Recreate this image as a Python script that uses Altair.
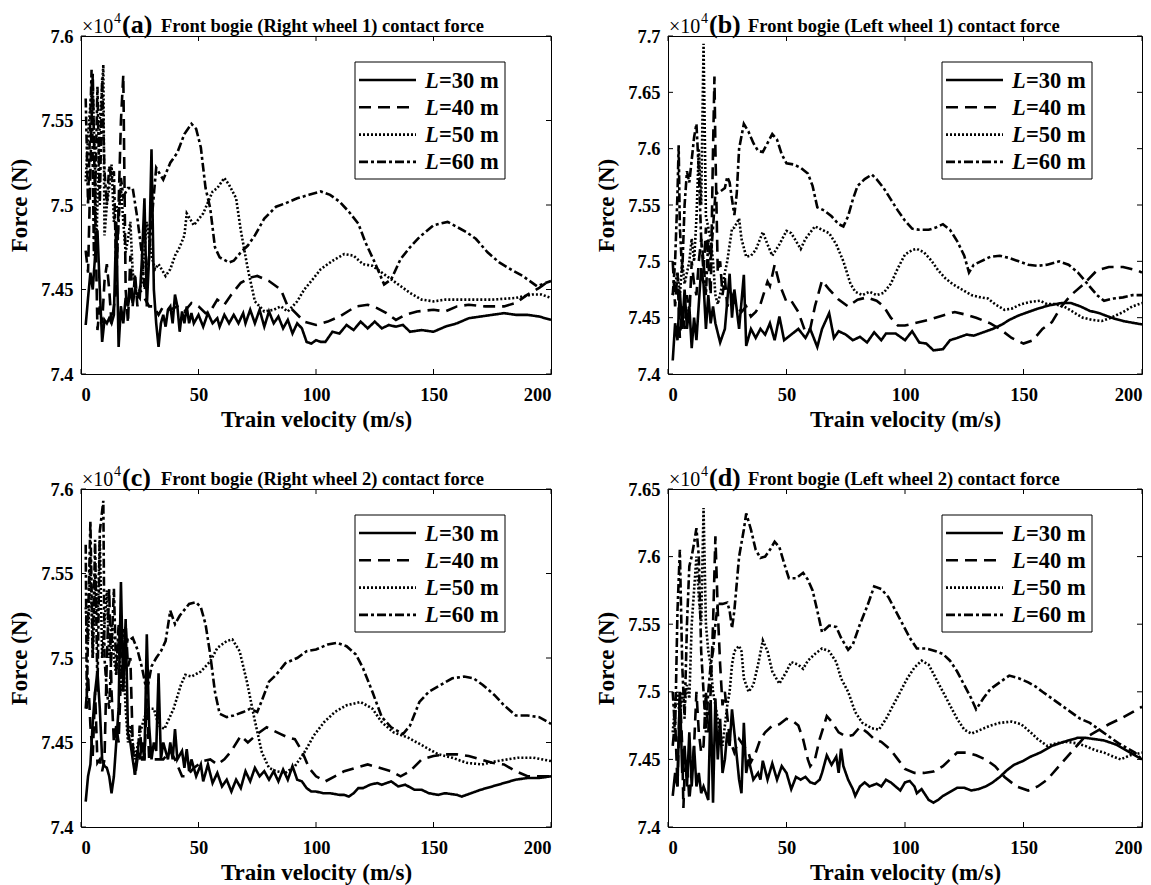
import altair as alt
import pandas as pd

FONT = "Liberation Serif, 'Times New Roman', Times, serif"
W, H = 471, 338

# ---------------- data (velocity m/s, force x1e4 N) ----------------
SERIES = ["L=30 m", "L=40 m", "L=50 m", "L=60 m"]
DASHES = [[1, 0], [12, 7], [2, 2], [9, 3, 3, 3]]
X_TICKS = [0, 50, 100, 150, 200]

A30 = [(2,7.429),(3,7.445),(4,7.46),(5,7.45),(6,7.47),(7,7.485),(8,7.45),(9,7.419),(10,7.432),(11,7.43),(12,7.433),(13,7.43),(14,7.435),(15,7.49),(16,7.416),(17,7.44),(18,7.43),(19,7.445),(20,7.44),(21,7.45),(22,7.442),(23,7.45),(24,7.447),(25,7.445),(26,7.47),(27,7.504),(28,7.44),(29,7.47),(30,7.533),(31,7.45),(32,7.43),(33,7.416),(34,7.43),(35,7.435),(36,7.428),(37,7.438),(38,7.44),(39,7.43),(40,7.447),(41,7.44),(42,7.425),(43,7.437),(44,7.43),(45,7.44),(46,7.43),(47,7.436),(48,7.43),(50,7.435),(52,7.428),(54,7.436),(56,7.43),(58,7.433),(59,7.428),(61,7.435),(63,7.43),(65,7.435),(67,7.43),(69,7.436),(70,7.43),(72,7.438),(74,7.43),(76,7.438),(78,7.428),(80,7.437),(82,7.43),(84,7.434),(86,7.427),(88,7.432),(90,7.424),(92,7.43),(94,7.427),(96,7.419),(98,7.418),(100,7.42),(102,7.419),(104,7.419),(107,7.425),(110,7.424),(113,7.429),(116,7.426),(119,7.431),(122,7.427),(125,7.431),(128,7.427),(131,7.429),(134,7.428),(137,7.429),(140,7.425),(145,7.426),(150,7.425),(155,7.428),(160,7.43),(165,7.433),(170,7.434),(175,7.435),(180,7.436),(185,7.435),(190,7.435),(195,7.434),(200,7.432)]
A40 = [(2,7.473),(3,7.46),(4,7.52),(5,7.578),(6,7.5),(7,7.426),(8,7.44),(9,7.43),(10,7.455),(11,7.465),(12,7.45),(13,7.43),(14,7.44),(15,7.45),(16,7.5),(17,7.55),(18,7.577),(19,7.45),(20,7.43),(21,7.47),(22,7.44),(23,7.46),(24,7.44),(25,7.45),(27,7.445),(29,7.44),(31,7.44),(33,7.435),(35,7.44),(38,7.438),(41,7.44),(44,7.437),(47,7.442),(50,7.44),(53,7.436),(55,7.437),(58,7.444),(61,7.441),(64,7.447),(68,7.454),(72,7.457),(75,7.458),(80,7.455),(85,7.45),(88,7.44),(90,7.438),(95,7.431),(100,7.429),(105,7.431),(110,7.434),(117,7.44),(122,7.441),(126,7.439),(130,7.436),(134,7.432),(138,7.435),(143,7.437),(150,7.438),(155,7.437),(160,7.44),(165,7.441),(172,7.44),(180,7.44),(185,7.442),(190,7.447),(195,7.451),(200,7.456)]
A50 = [(2,7.514),(3,7.54),(4,7.56),(5,7.57),(6,7.52),(6.5,7.475),(7,7.5),(8,7.55),(9,7.57),(9.5,7.583),(10,7.482),(11,7.5),(12,7.51),(13,7.524),(14,7.49),(15,7.5),(16,7.495),(17,7.51),(18,7.49),(19,7.472),(20,7.48),(21,7.49),(22,7.46),(24,7.445),(26,7.455),(28,7.49),(30,7.47),(31.5,7.462),(33,7.465),(36,7.458),(38,7.462),(40,7.47),(42,7.475),(44,7.482),(45,7.495),(48,7.488),(52,7.495),(56,7.508),(58,7.51),(61,7.516),(63,7.512),(66,7.504),(68,7.485),(71,7.462),(74,7.443),(78,7.437),(82,7.438),(85,7.44),(88,7.437),(92,7.443),(95,7.45),(98,7.455),(102,7.462),(107,7.467),(112,7.471),(116,7.47),(120,7.465),(124,7.464),(128,7.46),(132,7.456),(136,7.452),(140,7.448),(145,7.444),(150,7.443),(155,7.444),(165,7.444),(175,7.444),(185,7.445),(192,7.447),(196,7.447),(200,7.445)]
A60 = [(2,7.563),(3,7.5),(4.5,7.58),(5.5,7.47),(7,7.57),(8,7.5),(9,7.575),(10,7.52),(11,7.5),(12,7.523),(13,7.515),(14,7.52),(15,7.46),(16,7.49),(17,7.516),(18,7.505),(20,7.51),(22,7.51),(24,7.492),(26,7.47),(27,7.45),(28,7.455),(29,7.47),(30,7.49),(32,7.522),(35,7.515),(38,7.525),(41,7.531),(44,7.542),(47,7.548),(49,7.545),(51,7.534),(53,7.51),(55,7.498),(57,7.475),(59,7.469),(63,7.466),(65,7.467),(68,7.472),(71,7.476),(74,7.482),(78,7.492),(83,7.499),(87,7.501),(92,7.504),(97,7.506),(102,7.508),(106,7.506),(110,7.502),(114,7.496),(118,7.489),(121,7.478),(125,7.466),(129,7.453),(132,7.456),(136,7.468),(140,7.475),(144,7.481),(150,7.488),(156,7.49),(160,7.487),(164,7.484),(168,7.48),(173,7.472),(178,7.466),(184,7.461),(188,7.458),(194,7.452),(200,7.455)]

B30 = [(2,7.412),(3,7.445),(4,7.43),(5,7.473),(6,7.44),(7,7.475),(8,7.44),(9,7.46),(10,7.423),(11,7.45),(12,7.43),(14,7.494),(15,7.48),(16,7.44),(17,7.47),(18,7.445),(19,7.46),(20,7.445),(22,7.428),(24,7.44),(26,7.489),(27,7.45),(28,7.475),(30,7.44),(32,7.488),(33,7.425),(35,7.44),(37,7.432),(39,7.44),(41,7.435),(43,7.445),(45,7.43),(47,7.451),(49,7.43),(52,7.435),(55,7.44),(58,7.432),(60,7.44),(63,7.424),(65,7.44),(68,7.454),(70,7.432),(72,7.438),(75,7.435),(78,7.43),(81,7.433),(84,7.428),(87,7.437),(90,7.43),(92,7.436),(96,7.436),(100,7.43),(103,7.438),(106,7.428),(109,7.427),(112,7.421),(116,7.422),(119,7.43),(122,7.432),(126,7.435),(129,7.434),(133,7.437),(137,7.44),(141,7.444),(144,7.448),(148,7.452),(152,7.455),(156,7.458),(161,7.461),(166,7.463),(170,7.463),(174,7.46),(178,7.456),(182,7.454),(187,7.45),(192,7.447),(200,7.444)]
B40 = [(2,7.5),(3,7.46),(4,7.49),(5,7.432),(6,7.46),(7,7.44),(8,7.47),(9,7.45),(10,7.5),(11,7.48),(12,7.47),(13,7.5),(14,7.52),(15,7.49),(16,7.53),(17,7.5),(18,7.47),(19,7.6),(19.6,7.664),(20,7.6),(21,7.49),(22,7.5),(23,7.47),(24,7.485),(25,7.46),(27,7.47),(29,7.46),(31,7.455),(33,7.46),(35,7.451),(37,7.455),(39,7.462),(42,7.482),(43,7.478),(45,7.497),(47,7.48),(50,7.464),(52,7.465),(55,7.455),(58,7.437),(60,7.44),(62,7.46),(65,7.483),(68,7.475),(72,7.466),(76,7.46),(80,7.466),(84,7.468),(88,7.465),(91,7.46),(94,7.45),(97,7.443),(100,7.443),(104,7.445),(110,7.448),(116,7.452),(121,7.455),(125,7.453),(130,7.45),(136,7.445),(140,7.44),(145,7.432),(150,7.427),(154,7.43),(158,7.44),(162,7.446),(166,7.46),(170,7.47),(175,7.479),(181,7.492),(186,7.495),(192,7.495),(198,7.492),(200,7.49)]
B50 = [(2,7.47),(3,7.48),(4,7.49),(5,7.47),(6,7.5),(7,7.48),(8,7.49),(9,7.5),(10,7.52),(11,7.5),(12,7.538),(13,7.6),(14,7.55),(15,7.693),(16,7.54),(17,7.53),(18,7.52),(19,7.5),(20,7.47),(21,7.462),(23,7.48),(25,7.5),(27,7.529),(28,7.53),(30,7.538),(31,7.52),(33,7.504),(35,7.505),(37,7.51),(40,7.526),(42,7.515),(44,7.505),(47,7.515),(50,7.527),(52,7.525),(54,7.518),(56,7.511),(58,7.52),(62,7.531),(65,7.528),(68,7.525),(71,7.515),(74,7.5),(77,7.48),(79,7.473),(82,7.47),(85,7.473),(88,7.47),(91,7.472),(94,7.48),(97,7.494),(100,7.506),(103,7.51),(105,7.511),(108,7.508),(111,7.501),(114,7.492),(117,7.485),(120,7.48),(124,7.475),(128,7.47),(132,7.468),(135,7.467),(138,7.462),(142,7.457),(145,7.458),(149,7.462),(153,7.464),(157,7.465),(160,7.462),(163,7.462),(167,7.46),(171,7.455),(175,7.45),(179,7.448),(183,7.447),(187,7.45),(192,7.455),(196,7.46),(200,7.463)]
B60 = [(2,7.47),(3,7.5),(4,7.56),(4.5,7.603),(5,7.53),(6,7.49),(7,7.55),(8,7.58),(9,7.57),(10,7.59),(11,7.61),(12,7.622),(13,7.58),(14,7.52),(15,7.5),(16,7.47),(17,7.52),(18,7.5),(19,7.53),(20,7.56),(22,7.562),(24,7.565),(25,7.575),(26,7.57),(27,7.555),(28,7.541),(29,7.56),(30,7.6),(32,7.622),(34,7.615),(36,7.605),(38,7.598),(40,7.597),(42,7.605),(44,7.613),(46,7.608),(48,7.595),(50,7.587),(53,7.586),(56,7.583),(59,7.578),(61,7.567),(63,7.548),(66,7.545),(69,7.54),(72,7.533),(74,7.531),(76,7.54),(78,7.555),(80,7.567),(83,7.573),(86,7.577),(88,7.573),(91,7.565),(94,7.555),(97,7.545),(100,7.536),(103,7.529),(106,7.528),(110,7.528),(113,7.53),(116,7.533),(119,7.528),(122,7.518),(125,7.505),(127,7.49),(129,7.497),(132,7.5),(136,7.504),(140,7.505),(144,7.503),(148,7.5),(152,7.497),(156,7.496),(160,7.497),(165,7.5),(169,7.497),(173,7.49),(177,7.48),(181,7.47),(184,7.465),(188,7.467),(192,7.468),(196,7.47),(200,7.47)]

C30 = [(2,7.415),(3,7.43),(4,7.437),(5,7.462),(6,7.48),(7,7.492),(8,7.47),(9,7.44),(10,7.436),(11,7.435),(12,7.43),(13,7.42),(14,7.43),(15,7.45),(16,7.47),(17,7.545),(18,7.48),(19,7.523),(20,7.455),(21,7.45),(22,7.44),(23,7.431),(24,7.445),(25,7.44),(26,7.45),(27,7.44),(28,7.514),(29,7.46),(30,7.44),(31,7.45),(32,7.445),(33,7.491),(34,7.44),(35,7.45),(37,7.44),(38,7.45),(39,7.44),(40,7.458),(41,7.44),(43,7.445),(44,7.435),(45,7.446),(46,7.433),(47,7.44),(49,7.43),(51,7.437),(52,7.427),(54,7.437),(56,7.426),(58,7.432),(60,7.424),(62,7.428),(64,7.421),(66,7.428),(68,7.423),(70,7.433),(72,7.427),(74,7.435),(76,7.43),(78,7.433),(80,7.428),(82,7.433),(84,7.427),(86,7.434),(88,7.428),(90,7.436),(92,7.428),(94,7.427),(96,7.423),(98,7.421),(100,7.421),(103,7.42),(106,7.42),(110,7.419),(112,7.419),(114,7.418),(116,7.42),(118,7.423),(120,7.423),(123,7.425),(126,7.426),(128,7.425),(130,7.426),(132,7.427),(135,7.424),(138,7.425),(142,7.422),(145,7.422),(148,7.42),(152,7.419),(155,7.42),(160,7.419),(162,7.418),(166,7.42),(170,7.422),(175,7.424),(180,7.426),(185,7.428),(190,7.429),(195,7.429),(200,7.43)]
C40 = [(2,7.47),(3,7.49),(4,7.46),(5,7.442),(6,7.48),(7,7.438),(8,7.44),(9,7.433),(10,7.44),(11,7.5),(12,7.541),(13,7.48),(14,7.45),(15,7.46),(16,7.45),(17,7.49),(18,7.5),(19,7.52),(20,7.495),(21,7.5),(22,7.45),(23,7.43),(24,7.44),(25,7.46),(26,7.44),(27,7.44),(28,7.476),(29,7.44),(31,7.44),(33,7.44),(35,7.44),(38,7.445),(40,7.44),(43,7.43),(45,7.43),(48,7.435),(52,7.439),(55,7.44),(58,7.437),(61,7.44),(64,7.445),(68,7.454),(71,7.45),(75,7.455),(79,7.459),(82,7.457),(85,7.455),(88,7.453),(91,7.452),(94,7.445),(97,7.435),(100,7.43),(104,7.427),(108,7.43),(112,7.433),(117,7.435),(122,7.437),(127,7.435),(132,7.433),(136,7.43),(140,7.433),(145,7.44),(150,7.442),(155,7.443),(160,7.443),(165,7.442),(170,7.44),(175,7.438),(180,7.437),(185,7.433),(190,7.43),(195,7.43),(200,7.43)]
C50 = [(2,7.53),(3,7.51),(4,7.56),(5,7.5),(6,7.55),(7,7.52),(8,7.57),(9,7.5),(10,7.52),(11,7.54),(12,7.5),(13,7.52),(14,7.5),(15,7.49),(16,7.51),(17,7.48),(18,7.5),(19,7.47),(20,7.45),(21,7.46),(22,7.45),(23,7.44),(25,7.455),(27,7.465),(29,7.47),(31,7.47),(33,7.46),(35.5,7.458),(39.4,7.47),(42.5,7.484),(44.4,7.49),(47,7.489),(51,7.492),(55,7.498),(58,7.506),(62,7.51),(64.4,7.511),(67.5,7.504),(70.6,7.486),(73.8,7.464),(77,7.444),(80,7.435),(83,7.433),(87,7.432),(91,7.436),(95,7.444),(99,7.454),(103.4,7.462),(108,7.468),(113,7.472),(119,7.474),(124,7.47),(128,7.462),(133,7.456),(139,7.453),(145.6,7.448),(152,7.443),(158,7.441),(164,7.438),(170.6,7.437),(177,7.439),(186,7.441),(192.5,7.441),(200,7.439)]
C60 = [(2,7.567),(2.5,7.47),(3,7.52),(4,7.581),(5,7.5),(6,7.57),(7,7.48),(8,7.575),(9.5,7.593),(10,7.5),(11,7.48),(12,7.47),(14,7.541),(15,7.49),(16,7.52),(17,7.5),(18,7.517),(20,7.51),(22,7.512),(24,7.505),(26,7.494),(28,7.48),(30,7.495),(32,7.5),(34,7.504),(36,7.51),(38,7.528),(40,7.52),(42,7.525),(46,7.532),(49,7.533),(51,7.53),(53,7.52),(55,7.502),(57,7.48),(59,7.467),(62,7.465),(65,7.466),(69,7.468),(72,7.47),(75,7.468),(77,7.475),(80,7.486),(83,7.49),(87,7.497),(92,7.5),(96,7.504),(100,7.505),(105,7.508),(109,7.509),(113,7.507),(117,7.502),(120,7.494),(124,7.48),(128,7.465),(132,7.459),(137,7.455),(140,7.46),(144,7.474),(148,7.48),(153,7.484),(158,7.488),(163,7.489),(167,7.488),(171,7.484),(176,7.478),(180,7.472),(185,7.466),(190,7.466),(195,7.465),(200,7.461)]

D30 = [(2,7.423),(3,7.44),(4,7.43),(5,7.5),(6,7.44),(7,7.46),(8,7.43),(9,7.47),(10,7.43),(11,7.46),(12,7.43),(13,7.44),(14,7.425),(15,7.43),(17,7.42),(18,7.494),(19,7.418),(20,7.495),(21,7.45),(22,7.48),(23,7.44),(24,7.45),(25,7.47),(26,7.46),(27,7.487),(28,7.47),(30,7.435),(31,7.425),(32,7.477),(33,7.44),(34,7.45),(36,7.435),(38,7.44),(39,7.435),(40,7.449),(42,7.435),(44,7.447),(46,7.435),(48,7.445),(50,7.44),(52,7.428),(54,7.437),(56,7.435),(58,7.437),(60,7.433),(62,7.432),(64,7.435),(65,7.44),(67,7.453),(69,7.446),(71,7.452),(72,7.44),(73,7.458),(74,7.445),(76,7.435),(78,7.428),(79,7.423),(81,7.43),(83,7.433),(85,7.43),(88,7.432),(90,7.43),(92,7.435),(94,7.433),(96,7.43),(98,7.427),(100,7.433),(102,7.434),(104,7.43),(105,7.425),(107,7.428),(110,7.42),(112,7.418),(114,7.42),(116,7.423),(119,7.426),(122,7.429),(125,7.429),(128,7.427),(131,7.428),(134,7.43),(137,7.433),(140,7.437),(143,7.442),(146,7.446),(150,7.449),(153,7.452),(157,7.455),(162,7.46),(167,7.463),(173,7.466),(176,7.466),(180,7.465),(184,7.464),(189,7.461),(193,7.457),(197,7.453),(200,7.45)]
D40 = [(2,7.46),(3,7.48),(4,7.43),(5,7.5),(6,7.46),(6.5,7.414),(7,7.44),(8,7.45),(9,7.42),(10,7.44),(11,7.46),(12,7.5),(13,7.47),(14,7.455),(15,7.46),(16,7.5),(17,7.47),(18,7.5),(19,7.55),(20,7.615),(21,7.56),(22,7.52),(23,7.49),(24,7.5),(26,7.465),(28,7.455),(30,7.465),(32,7.46),(34,7.455),(35,7.448),(37,7.455),(39,7.465),(41,7.47),(44,7.475),(47,7.476),(50,7.48),(53,7.478),(55,7.475),(57,7.465),(59,7.45),(60,7.445),(62,7.45),(64,7.465),(67,7.482),(69,7.478),(72,7.47),(75,7.467),(78,7.468),(81,7.474),(84,7.47),(87,7.465),(90,7.463),(94,7.457),(97,7.45),(100,7.443),(104,7.44),(108,7.44),(112,7.441),(116,7.445),(119,7.45),(122,7.455),(126,7.455),(130,7.453),(134,7.45),(138,7.445),(142,7.437),(147,7.43),(152,7.427),(156,7.43),(160,7.435),(165,7.445),(170,7.455),(175,7.465),(180,7.47),(186,7.476),(192,7.481),(196,7.485),(200,7.489)]
D50 = [(2,7.47),(3,7.49),(4,7.5),(5,7.48),(6,7.5),(7,7.49),(8,7.505),(9,7.495),(10,7.55),(12,7.6),(13,7.57),(14,7.55),(15,7.636),(16,7.55),(17,7.53),(18,7.52),(19,7.5),(21,7.48),(22,7.47),(23,7.46),(25,7.49),(26,7.5),(27,7.52),(28,7.53),(30,7.534),(31,7.53),(32,7.51),(34,7.5),(36,7.505),(38,7.52),(40,7.538),(42,7.53),(44,7.515),(47,7.506),(50,7.515),(52,7.522),(55,7.52),(57,7.517),(59,7.523),(62,7.528),(65,7.532),(68,7.53),(71,7.522),(73,7.51),(76,7.5),(79,7.485),(82,7.477),(86,7.473),(89,7.472),(92,7.48),(95,7.49),(98,7.5),(101,7.51),(104,7.518),(107,7.523),(110,7.52),(113,7.51),(116,7.5),(119,7.49),(122,7.48),(125,7.472),(128,7.469),(132,7.472),(136,7.475),(140,7.477),(145,7.478),(149,7.476),(153,7.47),(156,7.465),(160,7.46),(164,7.462),(168,7.463),(172,7.462),(176,7.46),(180,7.457),(184,7.455),(188,7.452),(191,7.45),(195,7.453),(200,7.455)]
D60 = [(2,7.5),(3,7.47),(4,7.56),(5,7.605),(6,7.52),(7,7.48),(8,7.55),(9,7.593),(10,7.6),(11,7.61),(12,7.621),(13,7.6),(14,7.53),(15,7.5),(16,7.47),(17,7.5),(18,7.52),(19,7.53),(20,7.55),(21,7.565),(23,7.565),(25,7.566),(26,7.56),(27,7.547),(28,7.56),(30,7.6),(32,7.62),(33,7.632),(35,7.62),(37,7.605),(39,7.599),(41,7.6),(43,7.605),(45,7.611),(47,7.607),(49,7.595),(51,7.584),(54,7.584),(57,7.588),(59,7.583),(61,7.575),(63,7.56),(65,7.544),(68,7.549),(71,7.548),(73,7.54),(76,7.531),(78,7.535),(81,7.55),(84,7.563),(87,7.578),(90,7.576),(93,7.57),(96,7.56),(99,7.55),(102,7.54),(105,7.532),(109,7.532),(113,7.53),(116,7.528),(119,7.523),(122,7.515),(125,7.505),(128,7.495),(130,7.487),(133,7.495),(136,7.502),(140,7.507),(144,7.512),(148,7.51),(152,7.507),(155,7.504),(158,7.5),(162,7.495),(166,7.49),(170,7.485),(174,7.48),(178,7.477),(182,7.472),(186,7.467),(190,7.462),(194,7.458),(197,7.455),(200,7.45)]

YT_A = [7.4, 7.45, 7.5, 7.55, 7.6]
YT_B = [7.4, 7.45, 7.5, 7.55, 7.6, 7.65, 7.7]
YT_C = [7.4, 7.45, 7.5, 7.55, 7.6]
YT_D = [7.4, 7.45, 7.5, 7.55, 7.6, 7.65]

PANELS = [
    ("(a)", "Front bogie (Right wheel 1) contact force", 7.6, YT_A, [A30, A40, A50, A60]),
    ("(b)", "Front bogie (Left wheel 1) contact force", 7.7, YT_B, [B30, B40, B50, B60]),
    ("(c)", "Front bogie (Right wheel 2) contact force", 7.6, YT_C, [C30, C40, C50, C60]),
    ("(d)", "Front bogie (Left wheel 2) contact force", 7.65, YT_D, [D30, D40, D50, D60]),
]

ONE = alt.Data(values=[{"k": 0}])


def xspec():
    return alt.X("v:Q", scale=alt.Scale(domain=[0, 200], nice=False, zero=False),
                 axis=alt.Axis(values=X_TICKS, title="Train velocity (m/s)"))


def yspec(ymax, yt):
    return alt.Y("f:Q", scale=alt.Scale(domain=[7.4, ymax], nice=False, zero=False),
                 axis=alt.Axis(values=yt, format="~g", title="Force (N)"))


def txt(text, x, y, size, weight="normal", style="normal"):
    return alt.Chart(ONE).mark_text(text=text, font=FONT, fontSize=size, fontWeight=weight,
                                    fontStyle=style, align="left", baseline="alphabetic",
                                    color="black").encode(x=alt.value(x), y=alt.value(y))


def panel(tag, title, ymax, yt, data, w):
    rows = []
    for name, pts in zip(SERIES, data):
        for v, f in pts:
            rows.append({"series": name, "v": v, "f": f})
    df = pd.DataFrame(rows)
    xs, ys = xspec(), yspec(ymax, yt)

    lines = alt.Chart(df).mark_line(strokeWidth=2.6, color="black", clip=True).encode(
        x=xs, y=ys,
        strokeDash=alt.StrokeDash("series:N", scale=alt.Scale(domain=SERIES, range=DASHES), legend=None),
        order=alt.Order("v:Q"),
    )
    xt = pd.DataFrame({"v": X_TICKS})
    ytd = pd.DataFrame({"f": yt})
    tk = dict(color="black", strokeWidth=1)
    tb = alt.Chart(xt).mark_rule(**tk).encode(x=xs, y=alt.value(H), y2=alt.value(H - 5))
    tt = alt.Chart(xt).mark_rule(**tk).encode(x=xs, y=alt.value(0), y2=alt.value(5))
    tl = alt.Chart(ytd).mark_rule(**tk).encode(y=ys, x=alt.value(0), x2=alt.value(5))
    tr = alt.Chart(ytd).mark_rule(**tk).encode(y=ys, x=alt.value(w - 5), x2=alt.value(w))

    # legend (manual, to get italic L)
    lx0, lx1, ly0, ly1 = 274, 424, 26, 143
    box = alt.Chart(ONE).mark_rect(fill="white", stroke="black", strokeWidth=1).encode(
        x=alt.value(lx0), x2=alt.value(lx1), y=alt.value(ly0), y2=alt.value(ly1))
    leg = [box]
    for i, (name, dash) in enumerate(zip(SERIES, DASHES)):
        yy = 44 + i * 27.3
        leg.append(alt.Chart(ONE).mark_rule(color="black", strokeWidth=2.6, strokeDash=dash).encode(
            x=alt.value(lx0 + 4), x2=alt.value(lx0 + 61), y=alt.value(yy)))
        leg.append(txt("L", lx0 + 70, yy + 7.5, 22.5, "bold", "italic"))
        leg.append(txt(name[1:], lx0 + 84, yy + 7.5, 22.5, "bold"))

    heads = [
        txt("×10", 1, -3, 20),
        txt("4", 33, -13, 14),
        txt(tag, 41, -3, 26, "bold"),
        txt(title, 80, -4, 18.5, "bold"),
    ]
    return alt.layer(lines, tb, tt, tl, tr, *leg, *heads).properties(width=w, height=H)


pa = panel(*PANELS[0], 470)
pb = panel(*PANELS[1], 474)
pc = panel(*PANELS[2], 470)
pd_ = panel(*PANELS[3], 474)

chart = alt.vconcat(
    alt.hconcat(pa, pb, spacing=43),
    alt.hconcat(pc, pd_, spacing=43),
    spacing=32,
).properties(
    padding={"left": 0, "top": 3, "right": 0, "bottom": 0}
).configure_view(
    stroke="black", strokeWidth=1
).configure_axis(
    grid=False, domain=False, ticks=False,
    labelFont=FONT, labelFontSize=18.5, labelFontWeight="bold", labelColor="black",
    titleFont=FONT, titleFontSize=23, titleFontWeight="bold", titleColor="black",
).configure_axisX(labelPadding=11, titlePadding=5).configure_axisY(labelPadding=8, titlePadding=9)

chart.save("out.html", embed_options={"renderer": "svg", "actions": False})
